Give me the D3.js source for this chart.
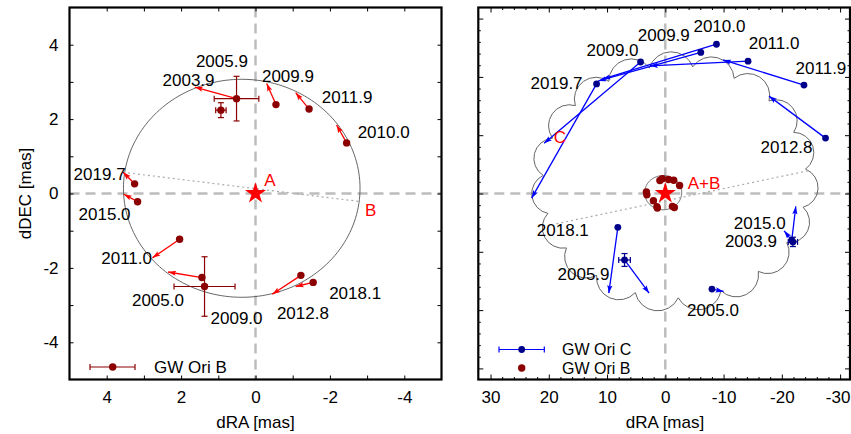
<!DOCTYPE html>
<html>
<head>
<meta charset="utf-8">
<script src="https://cdn.jsdelivr.net/npm/d3@7"></script>
<style>
  body { margin: 0; background: #fff; }
  svg text { font-family: "Liberation Sans", Arial, Helvetica, sans-serif; }
</style>
</head>
<body>
<svg id="chart" width="851" height="434"></svg>
<script>
// ---------- GW Ori B relative to A (mas) ----------
const epochsB  = ["2003.9","2005.9","2009.9","2011.9","2010.0","2019.7","2015.0","2011.0","2005.0","2009.0","2012.8","2018.1"];
const raB      = [ 0.51, 0.93,-0.55,-1.44,-2.45, 3.25, 3.17, 2.04, 1.44, 1.37,-1.22,-1.55];
const decB     = [ 2.55, 2.24, 2.39, 2.27, 1.36, 0.26,-0.22,-1.23,-2.26,-2.50,-2.20,-2.39];
const raErrB   = [ 0.60, 0.14, 0,    0,    0,    0,    0,    0,    0,    0.82, 0,    0   ];
const decErrB  = [ 0.60, 0.20, 0,    0,    0,    0,    0,    0,    0,    0.80, 0,    0   ];
const raFitB   = [ 1.63, 0.93,-0.30,-1.08,-2.18, 3.56, 3.54, 2.77, 2.35, 1.37,-0.45,-1.08];
const decFitB  = [ 2.86, 2.24, 2.96, 2.71, 1.84, 0.57,-0.02,-1.73,-2.11,-2.50,-2.71,-2.50];

// ---------- GW Ori C relative to A (mas) ----------
const epochsC  = ["2003.9","2005.0","2005.9","2009.0","2009.9","2010.0","2011.0","2011.9","2012.8","2015.0","2018.1","2019.7"];
const raC      = [-21.9, -8.0,  7.0,  4.25, -6.09, -8.78,-14.2,-23.8,-27.5,-21.7,  8.15, 11.8];
const decC     = [ -8.3,-16.4,-11.4, 22.55, 24.2,  25.6,  22.7, 18.6,  9.5, -8.0, -5.8,  18.8];
const raErrC   = [  0.8,  0,    1.0,  0,     0,     0,     0,    0,    0,    0,    0,     0  ];
const decErrC  = [  0.8,  0,    1.1,  0,     0,     0,     0,    0,    0,    0,    0,     0  ];
const raFitC   = [-20.4,-10.0,  2.78, 20.8,  11.5,  10.8,  2.66, -9.9,-17.8,-22.4,  9.7,  22.95];
const decFitC  = [ -6.4,-16.8,-17.1,  8.6,  19.3,  19.6,  21.9,  22.9, 16.7, -2.2,-17.1,  -0.8];

// ---------- orbit models ----------
const orbitB = { ra0: 0.37, dec0: 0.14, a: 3.18, b: 2.93 };           // A-B relative orbit
const nodesB = [[3.56, 0.57], [-2.76, -0.21]];
const orbitC = { ra0: -1.6, dec0: 2.0, a: 22.6, b: 19.9, arches: 19, start: 82.1, bulge: 0.36 };
const nodesC = [[18.7, -5.2], [-24.5, 3.9]];

// ---------- axis ticks ----------
const ticksLeft  = d3.range(-4, 5, 1);
const labelsLeft = [-4, -2, 0, 2, 4];
const ticksRight = d3.range(-30, 31, 2);
const labelsRight = [-30, -20, -10, 0, 10, 20, 30];

// label placement (pixel offsets from each point)
const labelOffB = [[-48,-19],[1,-49],[12,-29],[38,-12],[37,-11],[-35,-10],[-33,12],[-53,19],[-44,22],[32,31],[2,38],[42,10]];
const labelOffC = [[-42,-1],[1,21],[-41,14],[-28,-12],[-37,-18],[3,-18],[26,-18],[17,-17],[-39,9],[-32,-17],[-55,3],[-40,-1]];

const svg = d3.select("#chart");
const FS = 17;

// markers
const defs = svg.append("defs");
[["arrRed","#ff0000"],["arrBlue","#0000ff"]].forEach(([id,c]) => {
  defs.append("marker").attr("id", id).attr("markerUnits","userSpaceOnUse")
    .attr("viewBox","0 -4 9 8").attr("refX", 8).attr("refY", 0)
    .attr("markerWidth", 9).attr("markerHeight", 8).attr("orient","auto")
    .append("path").attr("d","M0,-2.6L8,0L0,2.6L1.5,0Z").attr("fill", c);
});

// ---------- scales ----------
const yTop = 7.5, yBottom = 379.5;
const xL = d3.scaleLinear().domain([5, -5]).range([69.5, 441.5]);
const yL = d3.scaleLinear().domain([-5, 5]).range([yBottom, yTop]);
const xR = d3.scaleLinear().domain([32.1, -31.7]).range([478.3, 850]);
const yR = d3.scaleLinear().domain([-31.9, 31.9]).range([yBottom, yTop]);

function zeroLines(g, x, y) {
  const st = l => l.attr("stroke","#bdbdbd").attr("stroke-width",2.5).attr("stroke-dasharray","10,6");
  st(g.append("line").attr("x1", x(0)).attr("x2", x(0)).attr("y1", yTop).attr("y2", yBottom));
  st(g.append("line").attr("x1", x.range()[0]).attr("x2", x.range()[1]).attr("y1", y(0)).attr("y2", y(0)));
}

function ellipsePath(o, x, y) {
  const pts = d3.range(0, 361, 2).map(t => {
    const r = t * Math.PI / 180;
    return [x(o.ra0 - o.a * Math.cos(r)), y(o.dec0 + o.b * Math.sin(r))];
  });
  return d3.line()(pts);
}

function cloudPath(o, x, y) {
  const n = o.arches;
  const cusps = d3.range(n).map(i => {
    const t = (o.start + i * 360 / n) * Math.PI / 180;
    return [x(o.ra0 - o.a * Math.cos(t)), y(o.dec0 + o.b * Math.sin(t))];
  });
  let area = 0;
  cusps.forEach((p, i) => { const q = cusps[(i + 1) % n]; area += p[0] * q[1] - q[0] * p[1]; });
  const sweep = area > 0 ? 1 : 0;
  let d = `M${cusps[0][0]},${cusps[0][1]}`;
  for (let i = 0; i < n; i++) {
    const p = cusps[i], q = cusps[(i + 1) % n];
    const c = Math.hypot(q[0] - p[0], q[1] - p[1]);
    const h = o.bulge * c;
    const r = (c * c / 4 + h * h) / (2 * h);
    d += `A${r},${r} 0 0 ${sweep} ${q[0]},${q[1]}`;
  }
  return d + "Z";
}

function star(g, x, y) {
  g.append("path").attr("d", d3.symbol(d3.symbolStar).size(140)())
    .attr("transform", `translate(${x(0)},${y(0)})`).attr("fill", "#ff0000");
}

function arrows(g, x, y, ra, dec, raF, decF, color, marker) {
  ra.forEach((v, i) => {
    const x1 = x(v), y1 = y(dec[i]), x2 = x(raF[i]), y2 = y(decF[i]);
    if (Math.hypot(x2 - x1, y2 - y1) < 1) return;
    g.append("line").attr("x1", x1).attr("y1", y1).attr("x2", x2).attr("y2", y2)
      .attr("stroke", color).attr("stroke-width", 1.3).attr("marker-end", `url(#${marker})`);
  });
}

function errorBars(g, x, y, ra, dec, eRa, eDec, color) {
  ra.forEach((v, i) => {
    const cx = x(v), cy = y(dec[i]);
    if (eRa[i] > 0) {
      const xa = x(v - eRa[i]), xb = x(v + eRa[i]);
      g.append("line").attr("x1", xa).attr("x2", xb).attr("y1", cy).attr("y2", cy).attr("stroke", color).attr("stroke-width", 1.2);
      [xa, xb].forEach(xx => g.append("line").attr("x1", xx).attr("x2", xx).attr("y1", cy - 3).attr("y2", cy + 3).attr("stroke", color).attr("stroke-width", 1.2));
    }
    if (eDec[i] > 0) {
      const ya = y(dec[i] - eDec[i]), yb = y(dec[i] + eDec[i]);
      g.append("line").attr("y1", ya).attr("y2", yb).attr("x1", cx).attr("x2", cx).attr("stroke", color).attr("stroke-width", 1.2);
      [ya, yb].forEach(yy => g.append("line").attr("y1", yy).attr("y2", yy).attr("x1", cx - 3).attr("x2", cx + 3).attr("stroke", color).attr("stroke-width", 1.2));
    }
  });
}

function points(g, x, y, ra, dec, color, r) {
  g.selectAll(null).data(ra).enter().append("circle")
    .attr("cx", (d) => x(d)).attr("cy", (d, i) => y(dec[i])).attr("r", r).attr("fill", color);
}

function epochLabels(g, x, y, ra, dec, epochs, offs) {
  g.selectAll(null).data(epochs).enter().append("text")
    .attr("x", (d, i) => x(ra[i]) + offs[i][0]).attr("y", (d, i) => y(dec[i]) + offs[i][1])
    .attr("dy", "0.36em").attr("text-anchor", "middle").attr("font-size", FS).attr("fill", "#000")
    .text(d => d);
}

function styleAxis(g) {
  g.select(".domain").remove();
  g.attr("font-size", null).attr("font-family", null);
  g.selectAll(".tick line").attr("stroke", "#000").attr("stroke-width", 1);
  g.selectAll("text").attr("font-size", FS).attr("fill", "#000");
}

function frame(g, x) {
  g.append("rect").attr("x", x.range()[0]).attr("y", yTop)
    .attr("width", x.range()[1] - x.range()[0]).attr("height", yBottom - yTop)
    .attr("fill", "none").attr("stroke", "#000").attr("stroke-width", 2.2);
}

// ================= left panel =================
const gL = svg.append("g");
zeroLines(gL, xL, yL);
gL.append("path").attr("d", ellipsePath(orbitB, xL, yL)).attr("fill", "none").attr("stroke", "#555").attr("stroke-width", 0.9);
gL.append("line").attr("x1", xL(nodesB[0][0])).attr("y1", yL(nodesB[0][1])).attr("x2", xL(nodesB[1][0])).attr("y2", yL(nodesB[1][1]))
  .attr("stroke", "#aaa").attr("stroke-width", 1.2).attr("stroke-dasharray", "2,3");
arrows(gL, xL, yL, raB, decB, raFitB, decFitB, "#ff0000", "arrRed");
errorBars(gL, xL, yL, raB, decB, raErrB, decErrB, "#8b0000");
points(gL, xL, yL, raB, decB, "#8b0000", 3.7);
epochLabels(gL, xL, yL, raB, decB, epochsB, labelOffB);
star(gL, xL, yL);
gL.append("text").attr("x", 270).attr("y", 180).attr("dy", "0.36em").attr("text-anchor", "middle").attr("font-size", FS).attr("fill", "#ff0000").text("A");
gL.append("text").attr("x", 370.7).attr("y", 210).attr("dy", "0.36em").attr("text-anchor", "middle").attr("font-size", FS).attr("fill", "#ff0000").text("B");

// legend
const lgL = gL.append("g");
lgL.append("line").attr("x1", 90).attr("x2", 135).attr("y1", 367).attr("y2", 367).attr("stroke", "#8b0000").attr("stroke-width", 1.2);
[90, 135].forEach(xx => lgL.append("line").attr("x1", xx).attr("x2", xx).attr("y1", 364).attr("y2", 370).attr("stroke", "#8b0000").attr("stroke-width", 1.2));
lgL.append("circle").attr("cx", 112.7).attr("cy", 367).attr("r", 3.7).attr("fill", "#8b0000");
lgL.append("text").attr("x", 154).attr("y", 367).attr("dy", "0.36em").attr("font-size", FS).text("GW Ori B");

// axes
gL.append("g").attr("transform", `translate(0,${yBottom})`)
  .call(d3.axisBottom(xL).tickValues(ticksLeft).tickSizeInner(-4).tickSizeOuter(0).tickPadding(11)
    .tickFormat(d => labelsLeft.includes(d) ? String(d) : "")).call(styleAxis);
gL.append("g").attr("transform", `translate(0,${yTop})`)
  .call(d3.axisTop(xL).tickValues(ticksLeft).tickSizeInner(-4).tickSizeOuter(0).tickFormat("")).call(styleAxis);
gL.append("g").attr("transform", `translate(${xL.range()[0]},0)`)
  .call(d3.axisLeft(yL).tickValues(ticksLeft).tickSizeInner(-4).tickSizeOuter(0).tickPadding(11)
    .tickFormat(d => labelsLeft.includes(d) ? String(d) : "")).call(styleAxis);
gL.append("g").attr("transform", `translate(${xL.range()[1]},0)`)
  .call(d3.axisRight(yL).tickValues(ticksLeft).tickSizeInner(-4).tickSizeOuter(0).tickFormat("")).call(styleAxis);
frame(gL, xL);
gL.append("text").attr("x", 255.5).attr("y", 428).attr("text-anchor", "middle").attr("font-size", FS).text("dRA [mas]");
gL.append("text").attr("transform", "translate(31,193.5) rotate(-90)").attr("text-anchor", "middle").attr("font-size", FS).text("dDEC [mas]");

// ================= right panel =================
const gR = svg.append("g");
zeroLines(gR, xR, yR);
gR.append("path").attr("d", cloudPath(orbitC, xR, yR)).attr("fill", "none").attr("stroke", "#555").attr("stroke-width", 0.9);
gR.append("path").attr("d", ellipsePath(orbitB, xR, yR)).attr("fill", "none").attr("stroke", "#555").attr("stroke-width", 0.9);
gR.append("line").attr("x1", xR(nodesC[0][0])).attr("y1", yR(nodesC[0][1])).attr("x2", xR(nodesC[1][0])).attr("y2", yR(nodesC[1][1]))
  .attr("stroke", "#aaa").attr("stroke-width", 1.2).attr("stroke-dasharray", "2,3");
arrows(gR, xR, yR, raC, decC, raFitC, decFitC, "#0000ff", "arrBlue");
errorBars(gR, xR, yR, raC, decC, raErrC, decErrC, "#00008b");
points(gR, xR, yR, raC, decC, "#00008b", 3.4);
epochLabels(gR, xR, yR, raC, decC, epochsC, labelOffC);
points(gR, xR, yR, raB, decB, "#8b0000", 3.7);
star(gR, xR, yR);
gR.append("text").attr("x", 560).attr("y", 137).attr("dy", "0.36em").attr("text-anchor", "middle").attr("font-size", FS).attr("fill", "#ff0000").text("C");
gR.append("text").attr("x", 704).attr("y", 183).attr("dy", "0.36em").attr("text-anchor", "middle").attr("font-size", FS).attr("fill", "#ff0000").text("A+B");

// legend (two rows)
const LFS = 16;
const lgR = gR.append("g");
lgR.append("line").attr("x1", 499).attr("x2", 544.3).attr("y1", 349.5).attr("y2", 349.5).attr("stroke", "#0000ff").attr("stroke-width", 1.2);
[499, 544.3].forEach(xx => lgR.append("line").attr("x1", xx).attr("x2", xx).attr("y1", 346.5).attr("y2", 352.5).attr("stroke", "#0000ff").attr("stroke-width", 1.2));
lgR.append("circle").attr("cx", 521.7).attr("cy", 349.5).attr("r", 3.4).attr("fill", "#00008b");
lgR.append("text").attr("x", 562).attr("y", 349.5).attr("dy", "0.36em").attr("font-size", LFS).text("GW Ori C");
lgR.append("circle").attr("cx", 521.7).attr("cy", 368).attr("r", 3.7).attr("fill", "#8b0000");
lgR.append("text").attr("x", 562).attr("y", 368).attr("dy", "0.36em").attr("font-size", LFS).text("GW Ori B");

// axes (minor every 2 mas, major every 10 mas)
const minorR = ticksRight.filter(d => d % 10 !== 0);
function rightAxes(vals, len, labels) {
  gR.append("g").attr("transform", `translate(0,${yBottom})`)
    .call(d3.axisBottom(xR).tickValues(vals).tickSizeInner(-len).tickSizeOuter(0).tickPadding(11)
      .tickFormat(d => labels && labelsRight.includes(d) ? String(d) : "")).call(styleAxis)
    .call(g => g.selectAll(".tick text").filter(d => d === -30).attr("dx", -2.5));
  gR.append("g").attr("transform", `translate(0,${yTop})`)
    .call(d3.axisTop(xR).tickValues(vals).tickSizeInner(-len).tickSizeOuter(0).tickFormat("")).call(styleAxis);
  gR.append("g").attr("transform", `translate(${xR.range()[0]},0)`)
    .call(d3.axisLeft(yR).tickValues(vals).tickSizeInner(-len).tickSizeOuter(0).tickFormat("")).call(styleAxis);
  gR.append("g").attr("transform", `translate(${xR.range()[1]},0)`)
    .call(d3.axisRight(yR).tickValues(vals).tickSizeInner(-len).tickSizeOuter(0).tickFormat("")).call(styleAxis);
}
rightAxes(minorR, 2.5, false);
rightAxes(labelsRight, 5, true);
frame(gR, xR);
gR.append("text").attr("x", 665).attr("y", 428).attr("text-anchor", "middle").attr("font-size", FS).text("dRA [mas]");
</script>
</body>
</html>
